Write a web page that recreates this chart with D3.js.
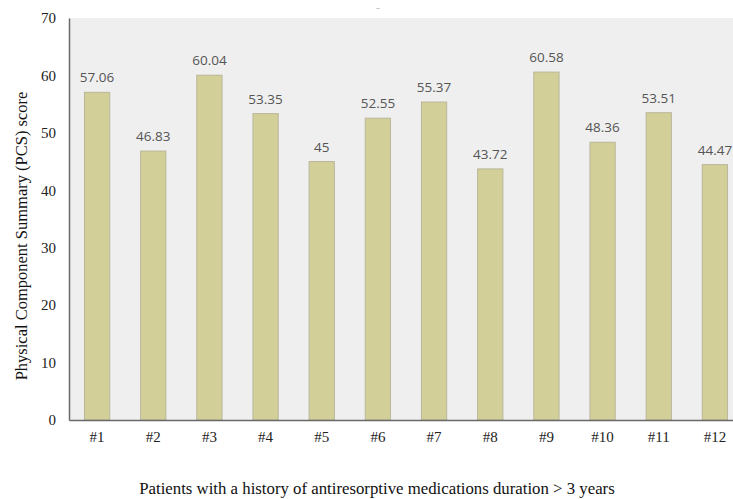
<!DOCTYPE html>
<html>
<head>
<meta charset="utf-8">
<script src="https://cdn.jsdelivr.net/npm/d3@7"></script>
<style>
  html, body { margin: 0; padding: 0; background: #fff; }
  svg { display: block; }
</style>
</head>
<body>
<svg id="chart" width="733" height="499"></svg>
<script>
// Patient labels and PCS scores
const patients = ["#1", "#2", "#3", "#4", "#5", "#6", "#7", "#8", "#9", "#10", "#11", "#12"];
const pcsScores = [57.06, 46.83, 60.04, 53.35, 45, 52.55, 55.37, 43.72, 60.58, 48.36, 53.51, 44.47];
const yTicks = [0, 10, 20, 30, 40, 50, 60, 70];

const svg = d3.select("#chart");
const margin = { left: 69, top: 18, bottom: 420, right: 743 };
const serif = "'Liberation Serif', 'Times New Roman', serif";

const x = d3.scaleBand()
  .domain(patients)
  .range([margin.left, margin.right])
  .paddingInner(0.55)
  .paddingOuter(0.275);

const y = d3.scaleLinear()
  .domain([0, 70])
  .range([margin.bottom, margin.top]);

// plot area background
svg.append("rect")
  .attr("x", margin.left)
  .attr("y", margin.top)
  .attr("width", margin.right - margin.left)
  .attr("height", margin.bottom - margin.top)
  .attr("fill", "#efefef");

// bars
svg.append("g").selectAll("rect")
  .data(pcsScores)
  .join("rect")
  .attr("x", (d, i) => x(patients[i]))
  .attr("y", d => y(d))
  .attr("width", x.bandwidth())
  .attr("height", d => y(0) - y(d))
  .attr("fill", "#d3cf98")
  .attr("stroke", "#b9b79a")
  .attr("stroke-width", 1);

// value labels
svg.append("g").selectAll("text")
  .data(pcsScores)
  .join("text")
  .attr("x", (d, i) => x(patients[i]) + x.bandwidth() / 2)
  .attr("y", d => y(d) - 10)
  .attr("text-anchor", "middle")
  .attr("font-family", "'Open Sans', 'Noto Sans', sans-serif")
  .attr("font-size", 13.5)
  .attr("fill", "#555")
  .text(d => d);

// y axis
const yAxis = svg.append("g")
  .attr("transform", `translate(${margin.left},0)`)
  .call(d3.axisLeft(y).tickValues(yTicks).tickSize(0).tickPadding(13));
yAxis.select(".domain").attr("stroke", "#6a6a6a").attr("stroke-width", 1.5);
yAxis.selectAll("text")
  .attr("font-family", serif)
  .attr("font-size", 15)
  .attr("fill", "#222");

// x axis
const xAxis = svg.append("g")
  .attr("transform", `translate(0,${margin.bottom})`)
  .call(d3.axisBottom(x).tickSize(0).tickPadding(11));
xAxis.select(".domain").attr("stroke", "#6a6a6a").attr("stroke-width", 1.5);
xAxis.selectAll("text")
  .attr("font-family", serif)
  .attr("font-size", 15)
  .attr("fill", "#222");

// axis titles
svg.append("text")
  .attr("transform", "translate(27,236) rotate(-90)")
  .attr("text-anchor", "middle")
  .attr("font-family", serif)
  .attr("font-size", 16.5)
  .attr("fill", "#111")
  .text("Physical Component Summary (PCS) score");

svg.append("text")
  .attr("x", 377)
  .attr("y", 494)
  .attr("text-anchor", "middle")
  .attr("font-family", serif)
  .attr("font-size", 16.8)
  .attr("fill", "#111")
  .text("Patients with a history of antiresorptive medications duration > 3 years");

// empty chart title placeholder
svg.append("text")
  .attr("x", 378)
  .attr("y", 10)
  .attr("text-anchor", "middle")
  .attr("font-family", "'Open Sans', sans-serif")
  .attr("font-size", 8)
  .attr("fill", "#999")
  .text("–");
</script>
</body>
</html>
